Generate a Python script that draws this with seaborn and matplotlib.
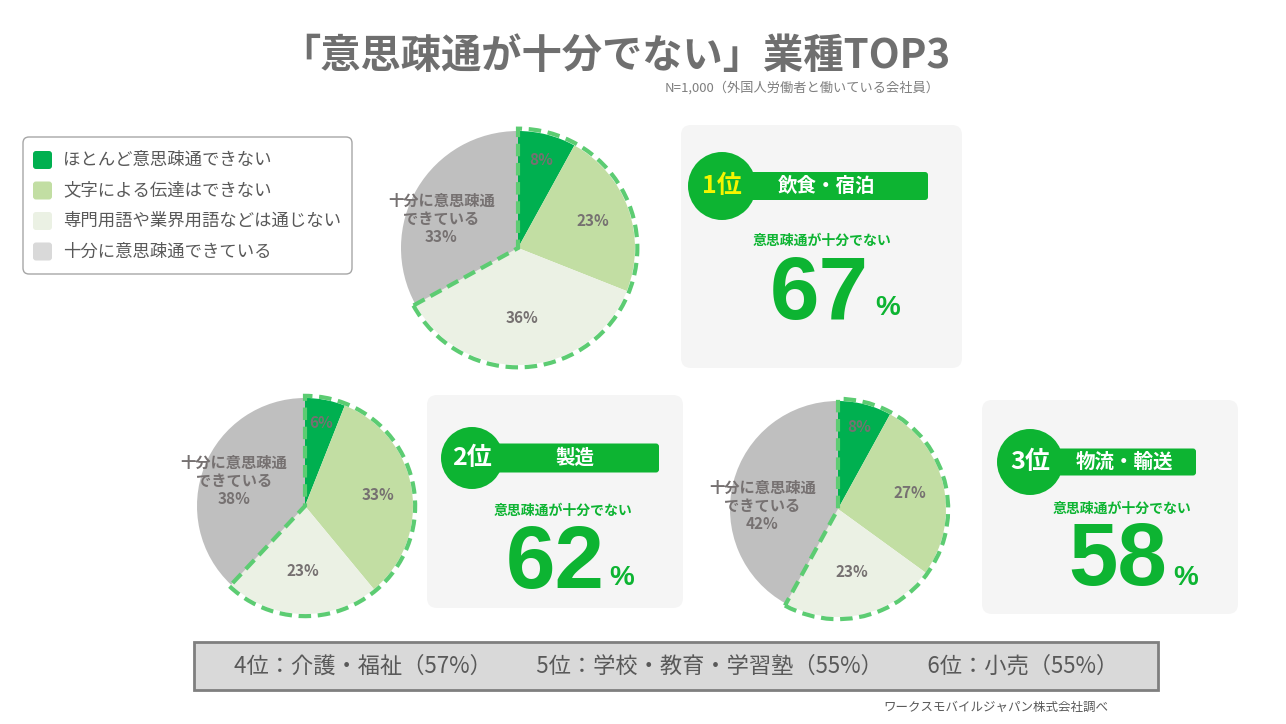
# 「意思疎通が十分でない」業種TOP3 - pie charts with rank cards

import matplotlib
matplotlib.use("Agg")
import matplotlib.pyplot as plt
from matplotlib.patches import FancyBboxPatch, Wedge, Circle, Rectangle
import numpy as np
import seaborn as sns

# --- data ---
categories = ["ほとんど意思疎通できない", "文字による伝達はできない",
              "専門用語や業界用語などは通じない", "十分に意思疎通できている"]
industries = ["飲食・宿泊", "製造", "物流・輸送"]
ranks = ["1位", "2位", "3位"]
almost_none = [8, 6, 8]
no_written = [23, 33, 27]
no_technical = [36, 23, 23]
sufficient = [33, 38, 42]
insufficient = [67, 62, 58]

other_ranks = ["4位", "5位", "6位"]
other_names = ["介護・福祉", "学校・教育・学習塾", "小売"]
other_pct = [57, 55, 55]

sns.set_theme(style="white")
plt.rcParams["font.family"] = ["Noto Sans CJK JP", "DejaVu Sans"]

W, H = 1286, 724
fig = plt.figure(figsize=(W / 100, H / 100), dpi=100)
fig.patch.set_facecolor("white")

# background axes in pixel coordinates
bg = fig.add_axes([0, 0, 1, 1])
bg.set_xlim(0, W)
bg.set_ylim(H, 0)
bg.axis("off")

pie_colors = sns.color_palette(["#00b050", "#c2dea3", "#ebf1e4", "#bfbfbf"])
legend_colors = ["#00b050", "#c2dea3", "#ebf1e4", "#d9d9d9"]
green = "#0db432"
dash_green = "#5ccc72"
label_gray = "#767171"

# title
bg.text(615, 56, "「意思疎通が十分でない」業種TOP3", ha="center", va="center",
        fontsize=29, fontweight="bold", color="#6f6f6f")
bg.text(940, 88, "N=1,000（外国人労働者と働いている会社員）", ha="right", va="center",
        fontsize=9.5, color="#7f7f7f")

# legend box
bg.add_patch(FancyBboxPatch((23, 137), 329, 137, boxstyle="round,pad=0,rounding_size=6",
                            facecolor="white", edgecolor="#a6a6a6", linewidth=1))
for i, (cat, col) in enumerate(zip(categories, legend_colors)):
    y = 160 + i * 30.5
    bg.add_patch(FancyBboxPatch((33, y - 9), 19, 18, boxstyle="round,pad=0,rounding_size=3",
                                facecolor=col, edgecolor="none"))
    bg.text(63, y, cat, ha="left", va="center", fontsize=12.5, color="#595959")

# rank cards: card box, circle centre, bar end, text anchors
cards = [
    dict(box=(681, 125, 281, 243), circ=(722, 186), r=34, bar_end=928, bar_h=28, name_x=826,
         sub=(822, 241), num=(819, 296), pct=(888, 308), rank_col="#f5f500"),
    dict(box=(427, 395, 256, 213), circ=(472, 458), r=31, bar_end=659, bar_h=29, name_x=575,
         sub=(563, 511), num=(555, 565), pct=(622, 578), rank_col="white"),
    dict(box=(982, 400, 256, 214), circ=(1030, 462), r=33, bar_end=1196, bar_h=27, name_x=1124,
         sub=(1122, 509), num=(1118, 562), pct=(1186, 578), rank_col="white"),
]

for i, c in enumerate(cards):
    x, y, w, h = c["box"]
    bg.add_patch(FancyBboxPatch((x, y), w, h, boxstyle="round,pad=0,rounding_size=10",
                                facecolor="#f5f5f5", edgecolor="none"))
    cx, cy = c["circ"]
    bg.add_patch(FancyBboxPatch((cx, cy - c["bar_h"] / 2), c["bar_end"] - cx, c["bar_h"],
                                boxstyle="round,pad=0,rounding_size=3",
                                facecolor=green, edgecolor="none"))
    bg.add_patch(Circle((cx, cy), c["r"], facecolor=green, edgecolor="none"))
    bg.text(cx, cy, ranks[i], ha="center", va="center", fontsize=18,
            fontweight="bold", color=c["rank_col"])
    bg.text(c["name_x"], cy, industries[i], ha="center", va="center",
            fontsize=14, fontweight="bold", color="white")
    bg.text(*c["sub"], "意思疎通が十分でない", ha="center", va="center",
            fontsize=10, fontweight="bold", color=green)
    bg.text(*c["num"], str(insufficient[i]), ha="center", va="center",
            fontsize=64, fontweight="bold", color=green, family="Liberation Sans")
    bg.text(*c["pct"], "%", ha="center", va="center",
            fontsize=20, fontweight="bold", color=green, family="Liberation Sans")

# pies: centre and radius in pixels, plus angle nudge for the grey label
pies = [(518, 248, 117, 10), (305, 506, 108, 2), (838, 509, 108, 12)]
label_dist = [0.78, 0.68, 0.6, 0.7]

for i, (pcx, pcy, pr, nudge) in enumerate(pies):
    ax = fig.add_axes([(pcx - 1.15 * pr) / W, 1 - (pcy + 1.15 * pr) / H,
                       2.3 * pr / W, 2.3 * pr / H])
    vals = [almost_none[i], no_written[i], no_technical[i], sufficient[i]]
    wedges, _ = ax.pie(vals, colors=pie_colors, startangle=90, counterclock=False,
                       wedgeprops=dict(edgecolor="none"))
    ax.set_xlim(-1.15, 1.15)
    ax.set_ylim(-1.15, 1.15)
    ax.set_aspect("equal")
    ax.axis("off")
    for j, wdg in enumerate(wedges):
        mid = (wdg.theta1 + wdg.theta2) / 2
        txt = f"{vals[j]}%"
        if j == 3:
            txt = "十分に意思疎通\nできている\n" + txt
            mid += nudge
        ang = np.deg2rad(mid)
        d = label_dist[j]
        ax.text(d * np.cos(ang), d * np.sin(ang), txt, ha="center", va="center",
                fontsize=11, fontweight="bold", color=label_gray, linespacing=1.15)
    # dashed outline around the "not sufficient" share
    ax.add_patch(Wedge((0, 0), 1.02, wedges[2].theta1, wedges[0].theta2, fill=False,
                       edgecolor=dash_green, linewidth=3, linestyle=(0, (3, 1.6))))

# bottom summary box
bg.add_patch(Rectangle((194, 642), 964, 48, facecolor="#d9d9d9",
                       edgecolor="#7f7f7f", linewidth=2))
summary = "　　".join(f"{r}：{n}（{p}%）" for r, n, p in zip(other_ranks, other_names, other_pct))
bg.text(676, 666, summary, ha="center", va="center", fontsize=16, color="#595959")

bg.text(1108, 707, "ワークスモバイルジャパン株式会社調べ", ha="right", va="center",
        fontsize=9, color="#595959")

fig.savefig("out.png", dpi=100)
